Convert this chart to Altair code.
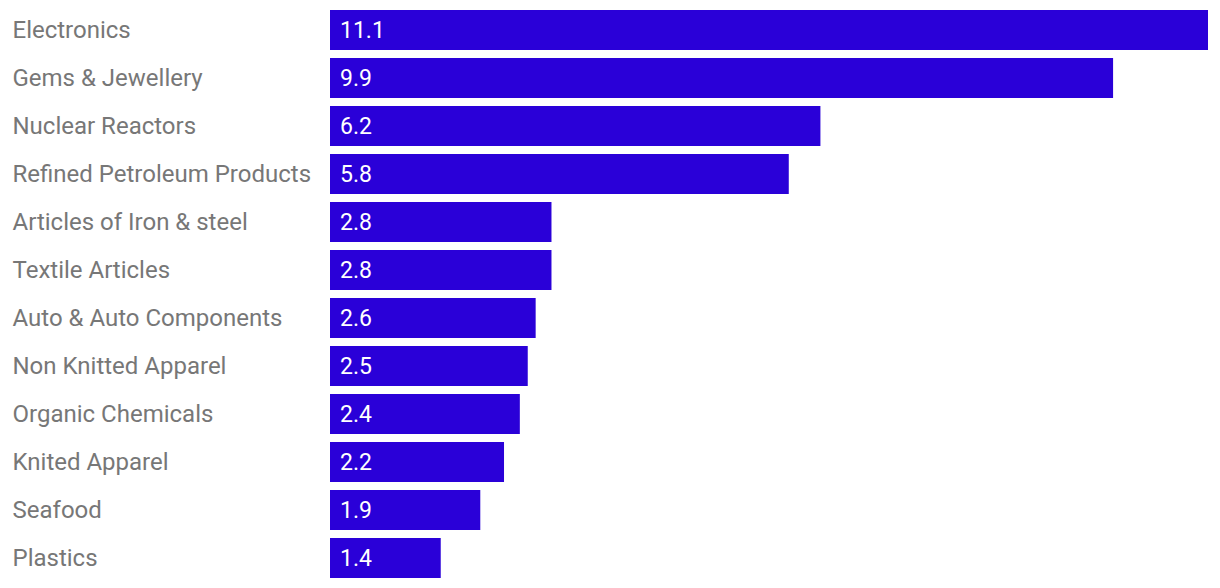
import altair as alt
import pandas as pd

categories = [
    "Electronics", "Gems & Jewellery", "Nuclear Reactors", "Refined Petroleum Products",
    "Articles of Iron & steel", "Textile Articles", "Auto & Auto Components",
    "Non Knitted Apparel", "Organic Chemicals", "Knited Apparel", "Seafood", "Plastics",
]
values = [11.1, 9.9, 6.2, 5.8, 2.8, 2.8, 2.6, 2.5, 2.4, 2.2, 1.9, 1.4]

df = pd.DataFrame({"category": categories, "value": values})

y = alt.Y(
    "category:N",
    sort=categories,
    title=None,
    scale=alt.Scale(paddingInner=1 / 6, paddingOuter=1 / 24),
    axis=alt.Axis(
        ticks=False, tickSize=0, domain=False, labelAlign="left", labelPadding=318,
        labelLimit=400, labelFont="Roboto", labelFontSize=24, labelColor="#777777",
        labelBaseline="middle", labelOffset=1,
    ),
)
x = alt.X("value:Q", title=None, scale=alt.Scale(domain=[0, 11.1], nice=False, zero=True), axis=None)

bars = alt.Chart(df).mark_bar(color="#2a00d8").encode(x=x, y=y)
text = alt.Chart(df).mark_text(
    align="left", baseline="middle", dx=10, dy=1, color="white", font="Roboto", fontSize=23
).encode(y=y, x=alt.datum(0), text=alt.Text("value:Q", format=".1f"))

chart = (bars + text).properties(
    width=878, height=572,
    autosize=alt.AutoSizeParams(type="none"),
    padding={"left": 322, "top": 0, "right": 0, "bottom": 0},
).configure_view(stroke=None).configure_axis(grid=False)

chart.save("out.html", embed_options={"renderer": "svg", "actions": False})
